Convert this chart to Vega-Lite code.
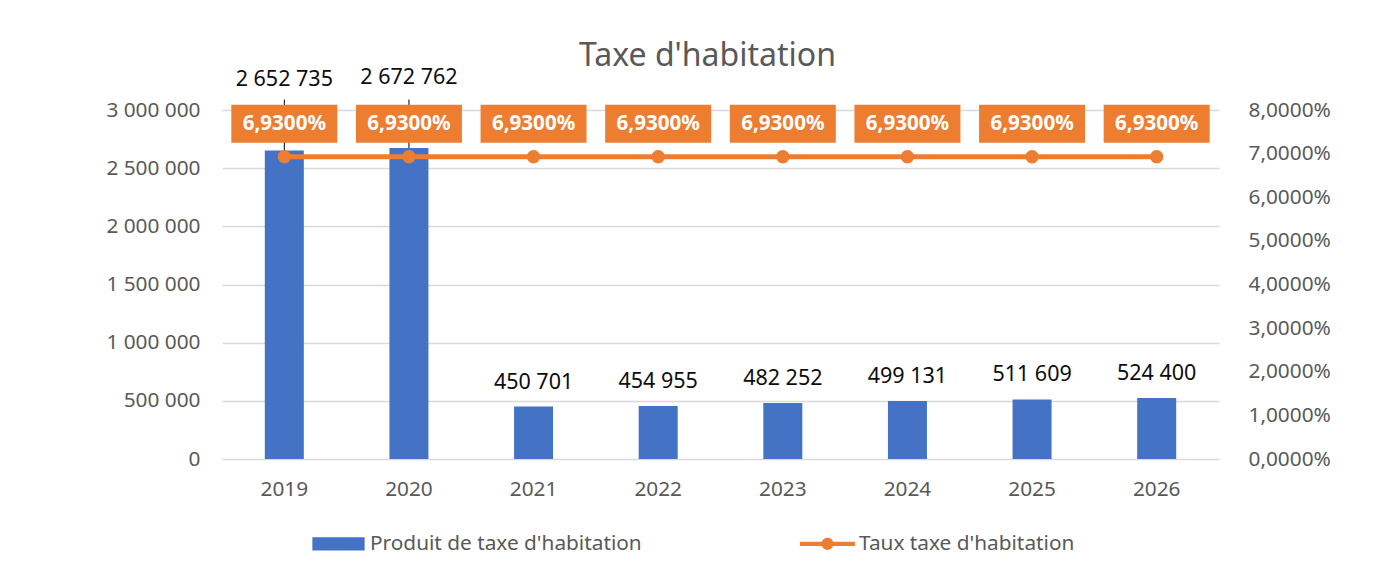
{
  "$schema": "https://vega.github.io/schema/vega-lite/v6.json",
  "autosize": "none",
  "width": 997,
  "height": 349,
  "padding": {"left": 222, "top": 110, "right": 173, "bottom": 112},
  "background": "white",
  "config": {
    "locale": {"number": {"decimal": ",", "thousands": " ", "grouping": [3], "currency": ["", " €"], "percent": "%"}},
    "view": {"stroke": null},
    "font": "Noto Sans",
    "axis": {"domain": false, "ticks": false, "tickSize": 0, "labelFont": "Noto Sans", "labelFontSize": 20.8, "labelColor": "#595959", "title": null}
  },
  "title": {"text": "Taxe d'habitation", "font": "Noto Sans", "fontSize": 32, "fontWeight": "normal", "color": "#595959", "anchor": "middle", "frame": "group", "dx": -13, "offset": -6},
  "data": {"values": [
    {"annee": "2019", "produit": 2652735, "taux": 0.0693},
    {"annee": "2020", "produit": 2672762, "taux": 0.0693},
    {"annee": "2021", "produit": 450701, "taux": 0.0693},
    {"annee": "2022", "produit": 454955, "taux": 0.0693},
    {"annee": "2023", "produit": 482252, "taux": 0.0693},
    {"annee": "2024", "produit": 499131, "taux": 0.0693},
    {"annee": "2025", "produit": 511609, "taux": 0.0693},
    {"annee": "2026", "produit": 524400, "taux": 0.0693}
  ]},
  "encoding": {
    "x": {"field": "annee", "type": "ordinal", "scale": {"paddingInner": 0.687, "paddingOuter": 0.3435}, "axis": {"labelAngle": 0, "labelPadding": 20, "grid": false}}
  },
  "layer": [
    {
      "encoding": {
        "y": {"field": "produit", "type": "quantitative", "scale": {"domain": [0, 3000000], "nice": false}, "axis": {"orient": "left", "values": [0, 500000, 1000000, 1500000, 2000000, 2500000, 3000000], "format": ",d", "grid": true, "gridColor": "#D9D9D9", "gridWidth": 1.5, "labelPadding": 22}}
      },
      "layer": [
        {"mark": {"type": "bar", "color": "#4472C4"},
         "encoding": {"color": {"datum": "Produit de taxe d'habitation", "type": "nominal",
           "scale": {"domain": ["Produit de taxe d'habitation", "Taux taxe d'habitation"], "range": ["#4472C4", "#ED7D31"]},
           "legend": {"title": null, "orient": "none", "direction": "horizontal", "legendX": 89, "legendY": 406,
             "symbolSize": 3025, "symbolStrokeWidth": 0, "labelFont": "Noto Sans", "labelFontSize": 20.8, "labelColor": "#595959", "labelOffset": 4, "columnPadding": 158, "labelLimit": 400,
             "encode": {"symbols": {"update": {
               "shape": {"signal": "datum.index === 1 ? 'M-1,-0.075H1V0.075H-1Z M-0.22,0A0.22,0.22 0 1,1 0.22,0A0.22,0.22 0 1,1 -0.22,0Z' : 'M-0.95,-0.24H0.95V0.24H-0.95Z'"},
               "fill": {"scale": "color", "field": "value"},
               "stroke": {"value": "transparent"},
               "opacity": {"value": 1}}}}}}}},
        {"transform": [{"filter": "datum.produit > 1000000"}],
         "mark": {"type": "rule", "color": "#000000", "strokeWidth": 1},
         "encoding": {"y2": {"datum": 3090000}}},
        {"transform": [{"filter": "datum.produit < 1000000"}],
         "mark": {"type": "text", "font": "Noto Sans", "fontSize": 21.5, "color": "#0d0d0d", "baseline": "alphabetic", "dy": -18},
         "encoding": {"text": {"field": "produit", "type": "quantitative", "format": ",d"}}},
        {"transform": [{"filter": "datum.produit > 1000000"}],
         "mark": {"type": "text", "font": "Noto Sans", "fontSize": 21.5, "color": "#0d0d0d", "baseline": "middle", "dy": -70},
         "encoding": {"text": {"field": "produit", "type": "quantitative", "format": ",d"}}}
      ]
    },
    {
      "encoding": {
        "y": {"field": "taux", "type": "quantitative", "scale": {"domain": [0, 0.08], "nice": false}, "axis": {"orient": "right", "values": [0, 0.01, 0.02, 0.03, 0.04, 0.05, 0.06, 0.07, 0.08], "format": ".4%", "grid": false, "labelPadding": 29}}
      },
      "layer": [
        {"mark": {"type": "line", "strokeWidth": 5},
         "encoding": {"color": {"datum": "Taux taxe d'habitation", "type": "nominal"}}},
        {"mark": {"type": "point", "filled": true, "size": 180, "opacity": 1, "color": "#ED7D31"}},
        {"mark": {"type": "point", "filled": true, "opacity": 1, "color": "#ED7D31", "size": 11236, "shape": "M-1,-0.981H1V-0.264H-1Z"}},
        {"mark": {"type": "text", "font": "Noto Sans", "fontSize": 20.6, "fontWeight": "bold", "color": "#FFFFFF", "baseline": "middle", "dy": -33},
         "encoding": {"text": {"field": "taux", "type": "quantitative", "format": ".4%"}}}
      ]
    }
  ],
  "resolve": {"scale": {"y": "independent"}}
}
